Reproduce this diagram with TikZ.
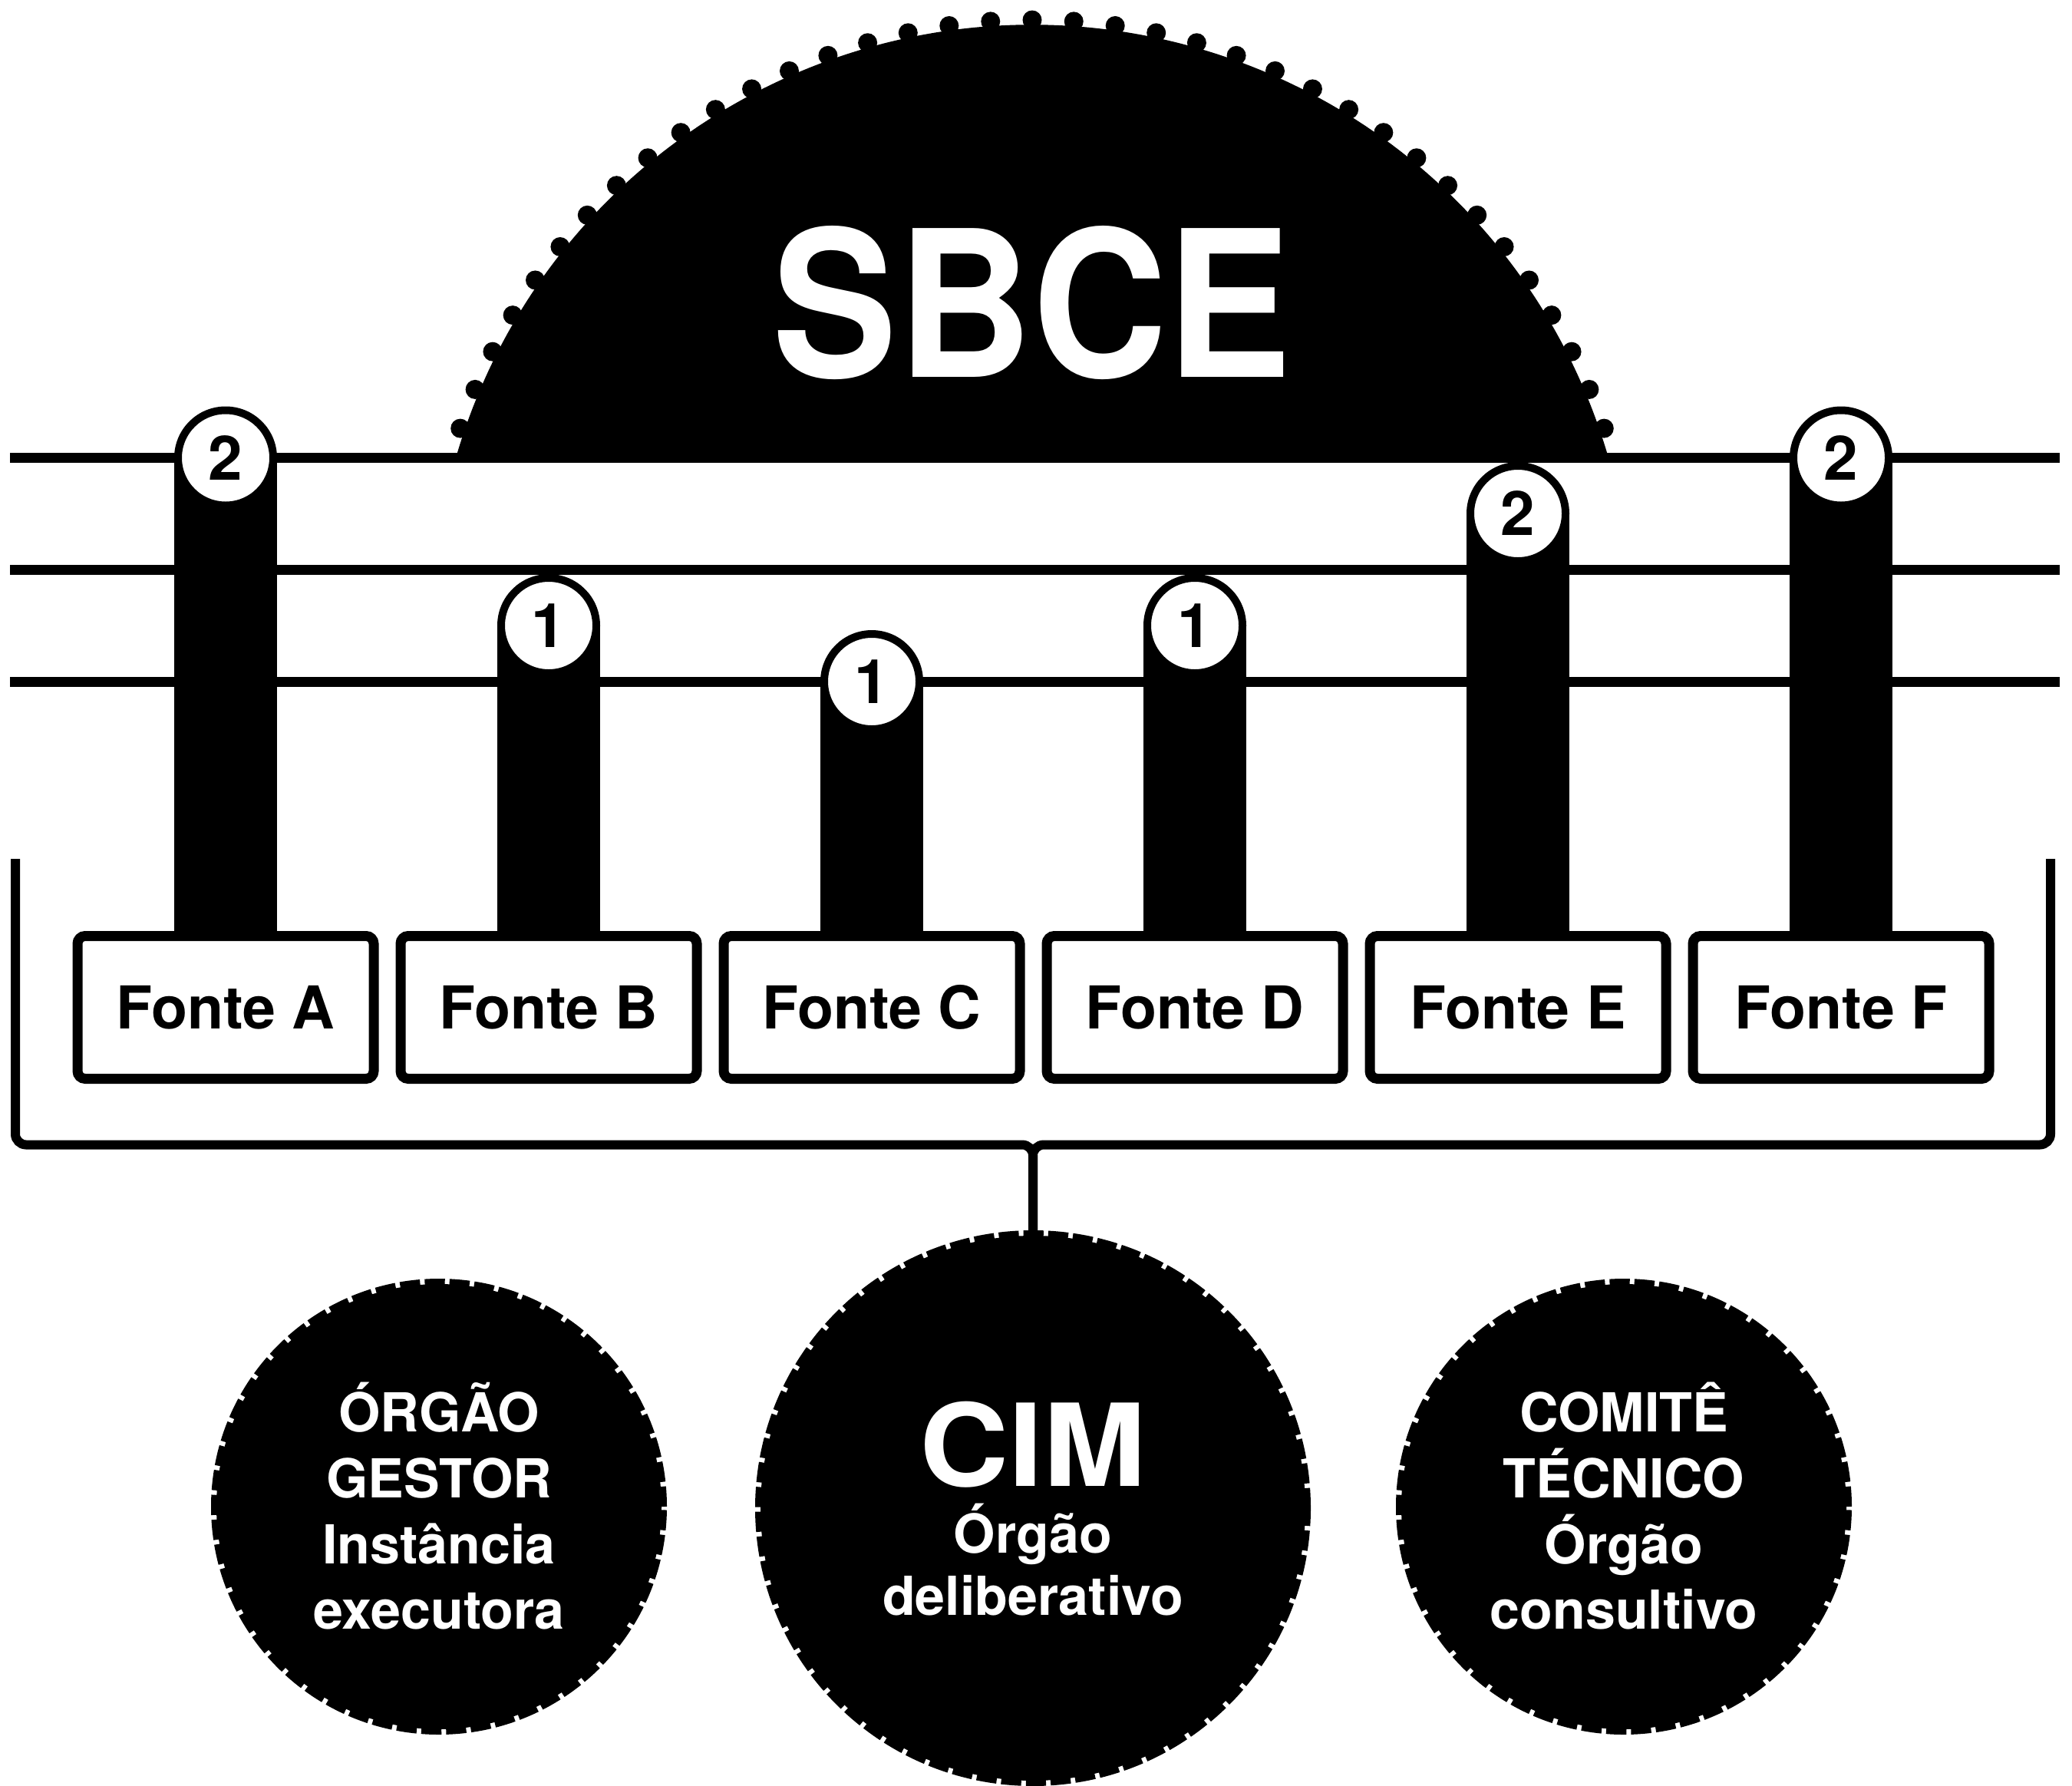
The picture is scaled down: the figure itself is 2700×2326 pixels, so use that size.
\documentclass[tikz,border=0pt]{standalone}
\usepackage{fontspec}
\setmainfont{TeX Gyre Heros}
\newcommand{\boldat}[1]{\fontsize{#1pt}{#1pt}\selectfont\bfseries}
\begin{document}
\begin{tikzpicture}[x=1pt,y=-1pt,
  rail/.style={line width=13pt},
  brace/.style={line width=12pt, rounded corners=14pt},
  post/.style={fill=black},
  badge/.style={circle, fill=white, draw=black, line width=10pt,
    minimum size=124pt, inner sep=0pt, font=\boldat{80}},
  fontebox/.style={draw=black, fill=white, line width=13pt, rounded corners=10pt,
    minimum width=386pt, minimum height=186pt, inner sep=0pt, font=\boldat{77}},
  council/.style={circle, fill=black, draw=black, line width=14pt,
    dash pattern=on 26pt off 6pt, inner sep=0pt},
  ctext/.style={text=white, anchor=base, inner sep=0pt, font=\boldat{70}},
]
\useasboundingbox (0,0) rectangle (2700,2326);

% three horizontal rails
\foreach \ry [count=\i] in {596.5,742,888} {
  \coordinate (rw\i) at (13,\ry);
  \coordinate (re\i) at (2684,\ry);
  \draw[rail] (rw\i) -- (re\i);
}

% SBCE dome: circular segment resting on the top rail, with a beaded rim
\fill (594,596.5) arc[start angle=163.82, end angle=16.18, radius=782pt] -- cycle;
\foreach \k in {0,...,36} {
  \fill ({1345+788*cos(18.95+\k*3.9472)}, {814-788*sin(18.95+\k*3.9472)}) circle[radius=12.5pt];
}
\node[text=white, anchor=base, inner sep=0pt, font=\boldat{266}] (sbce) at (1345,491)
  {\scalebox{0.916}[1]{SBCE}};

% posts with numbered badges
\foreach \px/\py/\num/\nm in {294/596.5/2/A, 715/815/1/B, 1136/888/1/C,
                              1557/815/1/D, 1978/669/2/E, 2399/596.5/2/F} {
  \fill[post] (\px-67,\py) rectangle (\px+67,1222);
  \node[badge] (n\nm) at (\px,\py) {\num};
}

% source boxes
\foreach \px/\nm in {294/A, 715/B, 1136/C, 1557/D, 1978/E, 2399/F} {
  \node[fontebox] (f\nm) at (\px,1312.5) {Fonte \nm};
}

% council circles
\node[council, minimum size=580pt] (gestor) at (572,1963) {};
\node[council, minimum size=710pt] (cim) at (1346,1965) {};
\node[council, minimum size=580pt] (comite) at (2116,1963) {};

% bracket joining all sources to the CIM
\coordinate (bl) at (20,1119);
\coordinate (br) at (2672,1119);
\coordinate (jn) at (1346,1491.5);
\draw[brace] (bl) |- (jn) -- (cim.north);
\draw[brace] (br) |- (jn) -- (cim.north);

% circle labels
\node[ctext] (g1) at (572,1865) {ÓRGÃO};
\node[ctext] (g2) at (572,1951) {GESTOR};
\node[ctext] (g3) at (572,2037) {Instância};
\node[ctext] (g4) at (572,2122) {executora};

\node[ctext, font=\boldat{149}] (c1) at (1346,1936) {\scalebox{1.08}[1]{CIM}};
\node[ctext] (c2) at (1346,2023) {Órgão};
\node[ctext] (c3) at (1346,2104) {deliberativo};

\node[ctext] (t1) at (2116,1865) {COMITÊ};
\node[ctext] (t2) at (2116,1951) {TÉCNICO};
\node[ctext] (t3) at (2116,2037) {Órgão};
\node[ctext] (t4) at (2116,2122) {consultivo};
\end{tikzpicture}
\end{document}
